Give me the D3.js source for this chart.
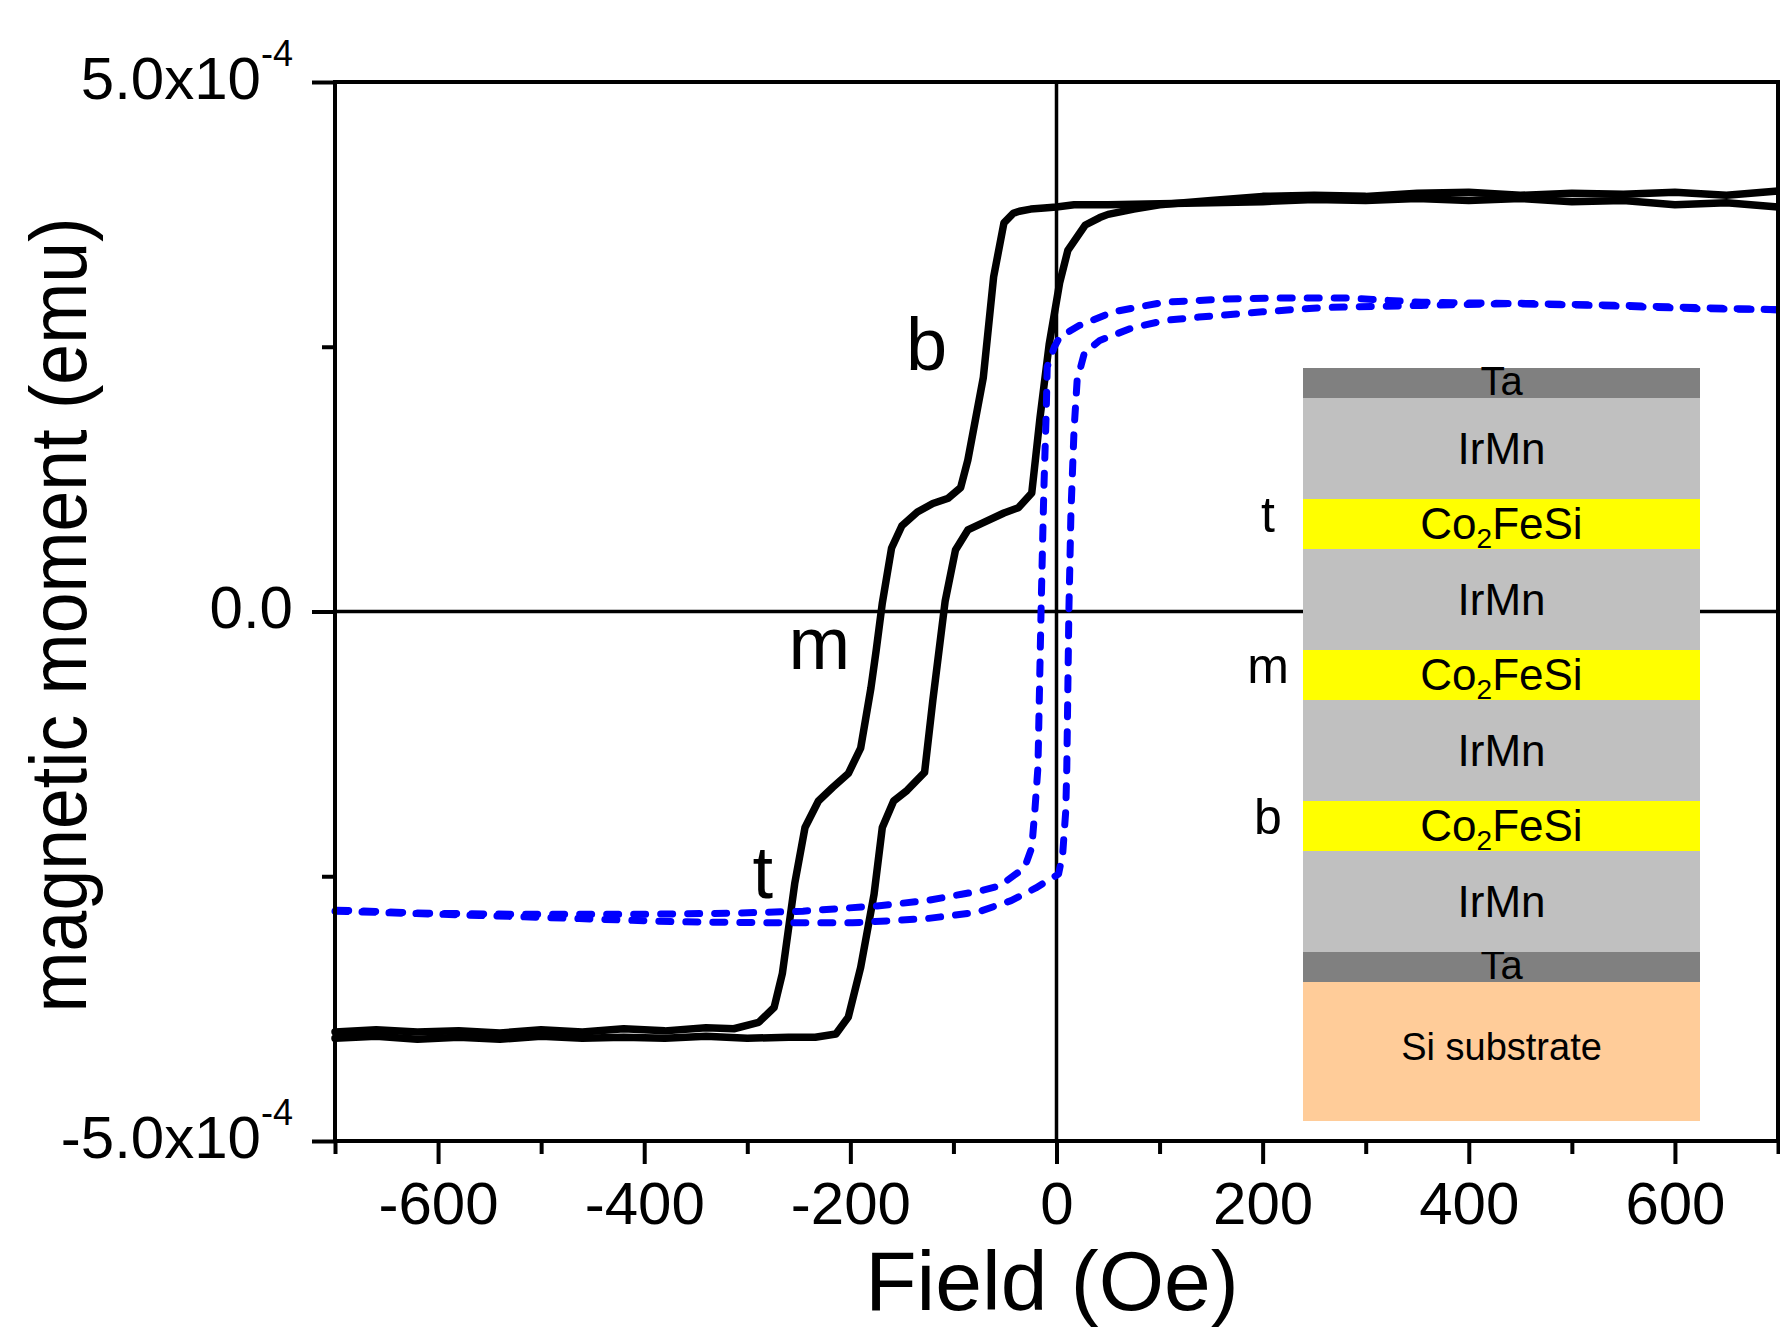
<!DOCTYPE html>
<html>
<head>
<meta charset="utf-8">
<script src="https://cdn.jsdelivr.net/npm/d3@7"></script>
<style>
  body { margin: 0; background: #fff; }
  svg text { font-family: "Liberation Sans", Arial, sans-serif; fill: #000; }
</style>
</head>
<body>
<script>
"use strict";
// field in Oe, moment in units of 1e-4 emu
const blackDownField = [700, 650, 600, 550, 500, 450, 400, 350, 300, 250, 200, 150, 100, 50, 17, 0, -12, -25, -36, -42,
    -51, -61, -71, -86, -93, -105, -120, -135, -150, -160, -169, -175, -180, -190, -202, -217, -231, -244, -254, -266,
    -274, -289, -313, -340, -380, -420, -460, -500, -540, -580, -620, -660, -700]
const blackDownMoment = [3.82, 3.86, 3.84, 3.88, 3.87, 3.90, 3.88, 3.90, 3.88, 3.89, 3.87, 3.86, 3.85, 3.84, 3.84, 3.82, 3.81, 3.80, 3.78, 3.76,
    3.67, 3.16, 2.21, 1.43, 1.17, 1.07, 1.02, 0.94, 0.81, 0.60, 0.08, -0.37, -0.72, -1.29, -1.53, -1.66, -1.79, -2.04, -2.57, -3.42,
    -3.74, -3.88, -3.94, -3.93, -3.96, -3.94, -3.97, -3.95, -3.98, -3.96, -3.97, -3.95, -3.97]

const blackUpField = [-700, -660, -620, -580, -540, -500, -460, -420, -380, -340, -300, -260, -234, -214, -202, -190, -177, -169, -158, -145,
    -128, -120, -108, -98, -86, -71, -51, -37, -24, -16, -7, 3, 11, 28, 42, 50, 75, 100, 150, 200,
    250, 300, 350, 400, 450, 500, 550, 600, 650, 700]
const blackUpMoment = [-4.03, -4.01, -4.04, -4.02, -4.04, -4.01, -4.03, -4.02, -4.03, -4.01, -4.03, -4.02, -4.02, -3.99, -3.83, -3.36, -2.67, -2.04, -1.79, -1.69,
    -1.52, -0.84, 0.10, 0.58, 0.77, 0.84, 0.93, 0.98, 1.12, 1.83, 2.53, 3.10, 3.41, 3.65, 3.72, 3.75, 3.80, 3.84, 3.88, 3.92,
    3.93, 3.92, 3.95, 3.96, 3.93, 3.95, 3.94, 3.96, 3.93, 3.97]

const blueDownField = [700, 620, 523, 426, 354, 282, 210, 162, 104, 55, 22, 3, -2, -9, -10, -12, -13, -15, -18, -21,
    -24, -31, -55, -75, -92, -126, -174, -246, -318, -415, -511, -607, -700]
const blueDownMoment = [2.85, 2.86, 2.89, 2.91, 2.92, 2.96, 2.96, 2.95, 2.92, 2.83, 2.70, 2.59, 2.50, 2.31, 1.87, 1.24, 0.86, 0.00, -1.47, -1.88,
    -2.23, -2.42, -2.59, -2.64, -2.67, -2.73, -2.78, -2.83, -2.85, -2.86, -2.86, -2.85, -2.82]

const blueUpField = [-700, -560, -463, -367, -270, -198, -126, -77, -44, -20, 2, 6, 9, 10, 12, 14, 17, 20, 27, 42,
    74, 106, 138, 200, 258, 354, 450, 550, 620, 700]
const blueUpMoment = [-2.83, -2.87, -2.90, -2.93, -2.94, -2.94, -2.90, -2.84, -2.73, -2.61, -2.48, -2.29, -1.88, -1.47, 0.00, 0.93, 1.71, 2.18, 2.44, 2.56,
    2.68, 2.75, 2.78, 2.83, 2.87, 2.89, 2.91, 2.89, 2.87, 2.85]

const xMajorTicks = [-600, -400, -200, 0, 200, 400, 600]
const xMinorTicks = [-700, -500, -300, -100, 100, 300, 500, 700]
const yMajorTicks = [-5, 0, 5]
const yMinorTicks = [-2.5, 2.5]

// curve labels b / m / t (field, moment)
const curveLabels = ["b", "m", "t"]
const curveLabelField = [-126, -230, -285]
const curveLabelMoment = [2.28, -0.54, -2.71]

// sample stack, top to bottom
const stackLayers = ["Ta", "IrMn", "Co2FeSi", "IrMn", "Co2FeSi", "IrMn", "Co2FeSi", "IrMn", "Ta", "Si substrate"]
const stackMarks = ["", "", "t", "", "m", "", "b", "", "", ""]

const W = 1780, H = 1332
const plot = {left: 335, right: 1778, top: 82, bottom: 1141}
const inset = {left: 1303, width: 397, top: 368}
const layerHeight = {"Ta": 30, "IrMn": 101, "Co2FeSi": 50, "Si substrate": 139}
const layerFill = {"Ta": "#808080", "IrMn": "#c0c0c0", "Co2FeSi": "#ffff00", "Si substrate": "#ffcc99"}

const x = d3.scaleLinear().domain([-700, 700]).range([plot.left, plot.right])
const y = d3.scaleLinear().domain([-5, 5]).range([plot.bottom, plot.top])

const svg = d3.select("body").append("svg")
    .attr("width", W)
    .attr("height", H)
svg.append("rect").attr("width", W).attr("height", H).attr("fill", "#fff")

//zero lines
svg.append("line")
    .attr("x1", x(-700)).attr("x2", x(700))
    .attr("y1", y(0)).attr("y2", y(0))
    .attr("stroke", "#000").attr("stroke-width", 3.5)
svg.append("line")
    .attr("x1", x(0)).attr("x2", x(0))
    .attr("y1", y(-5)).attr("y2", y(5))
    .attr("stroke", "#000").attr("stroke-width", 3.5)

//loops
const line = d3.line().x(d => x(d[0])).y(d => y(d[1]))
function pairs(field, moment) { return field.map((f, i) => [f, moment[i]]) }

const black = [pairs(blackDownField, blackDownMoment), pairs(blackUpField, blackUpMoment)]
const blue = [pairs(blueDownField, blueDownMoment), pairs(blueUpField, blueUpMoment)]

svg.selectAll(".black").data(black).enter().append("path")
    .attr("class", "black")
    .attr("d", line)
    .attr("fill", "none")
    .attr("stroke", "#000")
    .attr("stroke-width", 7.5)
    .attr("stroke-linejoin", "round")
    .attr("stroke-linecap", "round")
svg.selectAll(".blue").data(blue).enter().append("path")
    .attr("class", "blue")
    .attr("d", line)
    .attr("fill", "none")
    .attr("stroke", "#0000ff")
    .attr("stroke-width", 7)
    .attr("stroke-dasharray", "12 15")
    .attr("stroke-linejoin", "round")
    .attr("stroke-linecap", "round")

//frame
svg.append("rect")
    .attr("x", plot.left).attr("y", plot.top)
    .attr("width", plot.right - plot.left).attr("height", plot.bottom - plot.top)
    .attr("fill", "none").attr("stroke", "#000").attr("stroke-width", 4)

//axes
function styleAxis(g) {
    g.select(".domain").remove()
    g.attr("font-family", null).attr("font-size", 60)
    g.selectAll(".tick line").attr("stroke-width", 4)
}
svg.append("g")
    .attr("transform", `translate(0,${plot.bottom})`)
    .call(d3.axisBottom(x).tickValues(xMajorTicks).tickSize(23).tickPadding(17).tickFormat(d => String(d)))
    .call(styleAxis)
svg.append("g")
    .attr("transform", `translate(0,${plot.bottom})`)
    .call(d3.axisBottom(x).tickValues(xMinorTicks).tickSize(13).tickFormat(""))
    .call(styleAxis)
const yAxis = svg.append("g")
    .attr("transform", `translate(${plot.left},0)`)
    .call(d3.axisLeft(y).tickValues(yMajorTicks).tickSize(23).tickPadding(19))
    .call(styleAxis)
yAxis.selectAll(".tick text").each(function(d) {
    const t = d3.select(this).text(null).attr("dy", "0.27em")
    if (d === 0) {
        t.text("0.0")
    } else {
        t.append("tspan").text(`${d.toFixed(1)}x10`)
        t.append("tspan").attr("font-size", 36).attr("dy", -33).text("-4")
    }
})
svg.append("g")
    .attr("transform", `translate(${plot.left},0)`)
    .call(d3.axisLeft(y).tickValues(yMinorTicks).tickSize(13).tickFormat(""))
    .call(styleAxis)

//axis titles
svg.append("text")
    .attr("x", 1052).attr("y", 1310)
    .attr("text-anchor", "middle")
    .attr("font-size", 84)
    .text("Field (Oe)")
svg.append("text")
    .attr("transform", "translate(86,615) rotate(-90)")
    .attr("text-anchor", "middle")
    .attr("font-size", 79)
    .attr("textLength", 795)
    .attr("lengthAdjust", "spacingAndGlyphs")
    .text("magnetic moment (emu)")

//curve labels
svg.selectAll(".clabel").data(curveLabels).enter().append("text")
    .attr("class", "clabel")
    .attr("x", (d, i) => x(curveLabelField[i]))
    .attr("y", (d, i) => y(curveLabelMoment[i]))
    .attr("text-anchor", "middle")
    .attr("font-size", 74)
    .text(d => d)

//sample stack inset
const heights = stackLayers.map(l => layerHeight[l])
const tops = heights.map((h, i) => inset.top + d3.sum(heights.slice(0, i)))
const cx = inset.left + inset.width / 2
const stack = svg.append("g")
d3.range(stackLayers.length - 1, -1, -1).forEach(i => {
    const name = stackLayers[i], top = tops[i], h = heights[i]
    stack.append("rect")
        .attr("x", inset.left).attr("y", top)
        .attr("width", inset.width).attr("height", h)
        .attr("fill", layerFill[name])
    const t = stack.append("text").attr("x", cx).attr("text-anchor", "middle")
    if (name === "Ta") {
        t.attr("y", top + h - 3).attr("font-size", 40).text(name)
    } else if (name === "Co2FeSi") {
        t.attr("y", top + h / 2).attr("dy", "0.35em").attr("font-size", 44)
        t.append("tspan").text("Co")
        t.append("tspan").attr("font-size", 28).attr("dy", 9).text("2")
        t.append("tspan").attr("dy", -9).text("FeSi")
    } else if (name === "Si substrate") {
        t.attr("y", top + h / 2 - 5).attr("dy", "0.35em").attr("font-size", 38).text(name)
    } else {
        t.attr("y", top + h / 2).attr("dy", "0.35em").attr("font-size", 44).text(name)
    }
    if (stackMarks[i]) {
        svg.append("text")
            .attr("x", inset.left - 35)
            .attr("y", top + h - 17)
            .attr("text-anchor", "middle")
            .attr("font-size", 50)
            .text(stackMarks[i])
    }
})
</script>
</body>
</html>
